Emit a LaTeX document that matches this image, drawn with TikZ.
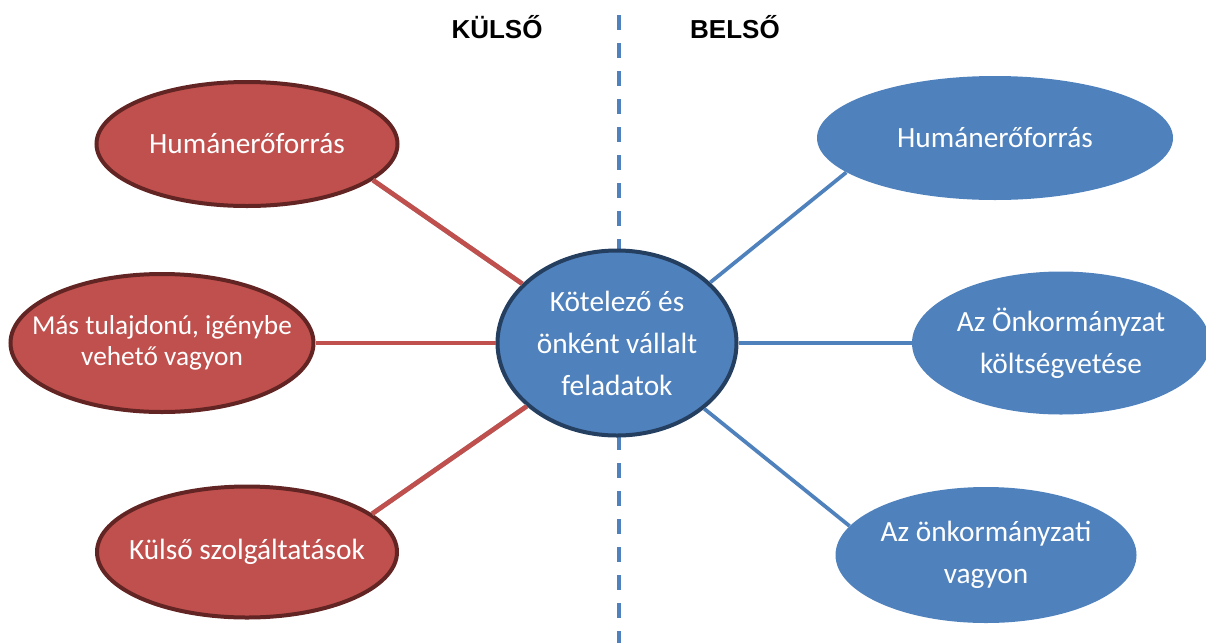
\documentclass[tikz,border=0pt]{standalone}
\usepackage{fontspec}
\setmainfont{Carlito}
\newfontfamily\headfont{Liberation Sans}
\usetikzlibrary{shapes.geometric}

\definecolor{redfill}{HTML}{C0504D}
\definecolor{redline}{HTML}{632523}
\definecolor{bluefill}{HTML}{4F81BD}
\definecolor{blueline}{HTML}{243F60}
\definecolor{shadowgray}{HTML}{A8A8A8}

\tikzset{
  ellsize/.style 2 args={minimum width=#1*0.75pt, minimum height=#2*0.75pt},
  txt/.style={align=center, text=white, font=\fontsize{22}{31.5}\selectfont},
  blob/.style={ellipse, inner sep=0pt},
  redblob/.style={blob, fill=redfill, draw=redline, line width=3pt},
  blueblob/.style={blob, fill=bluefill},
  redlink/.style={draw=redfill, line width=3.5pt},
  redshadow/.style={draw=shadowgray, line width=3.5pt, xshift=1.2pt, yshift=-2.8pt},
  bluelink/.style={draw=bluefill, line width=2.8pt},
  head/.style={font=\headfont\bfseries\fontsize{19.5}{23}\selectfont}
}

\begin{document}
\begin{tikzpicture}[x=0.75pt, y=-0.75pt]

  \useasboundingbox (0,0) rectangle (1206,643);

  \node[head] (kulso) at (497,27) {KÜLSŐ};

  \node[head] (belso) at (735,27) {BELSŐ};

  \coordinate (top) at (619,15);

  \coordinate (bottom) at (619,643);

  \draw[bluefill, line width=3pt, dash pattern=on 11.25pt off 9.75pt] (top) -- (bottom);

  \node[redblob, ellsize={301}{124}, label={[txt]center:Humánerőforrás}] (hk) at (247,144) {};

  \node[redblob, ellsize={303}{138},
    label={[txt, font=\fontsize{20.5}{23.5}\selectfont]center:Más tulajdonú, igénybe\\vehető vagyon}]
    (mk) at (162,343) {};

  \node[redblob, ellsize={300}{131}, label={[txt]center:Külső szolgáltatások}] (kk) at (247,552) {};

  \node[blob, fill=bluefill, draw=blueline, line width=3pt, ellsize={239}{185},
    label={[txt]center:Kötelező és\\önként vállalt\\feladatok}] (c) at (617,343) {};

  \node[blueblob, ellsize={356}{124}, label={[txt]center:Humánerőforrás}] (hb) at (995,138) {};

  \node[blueblob, ellsize={298}{143}, label={[txt]center:Az Önkormányzat\\költségvetése}] (kb) at (1061,343) {};

  \node[blueblob, ellsize={301}{136}, label={[txt]center:Az önkormányzati\\vagyon}] (vb) at (986,555) {};

  % Connectors
  \draw[redshadow] (hk.-16) -- (c.148);
  \draw[redshadow] (mk.east) -- (c.west);
  \draw[redshadow] (kk.17) -- (c.-145);
  \draw[redlink] (hk.-16) -- (c.148);
  \draw[redlink] (mk.east) -- (c.west);
  \draw[redlink] (kk.17) -- (c.-145);
  \draw[bluelink] (c.33) -- (hb.193);
  \draw[bluelink] (c.east) -- (kb.west);
  \draw[bluelink] (c.-37) -- (vb.168);

\end{tikzpicture}
\end{document}
